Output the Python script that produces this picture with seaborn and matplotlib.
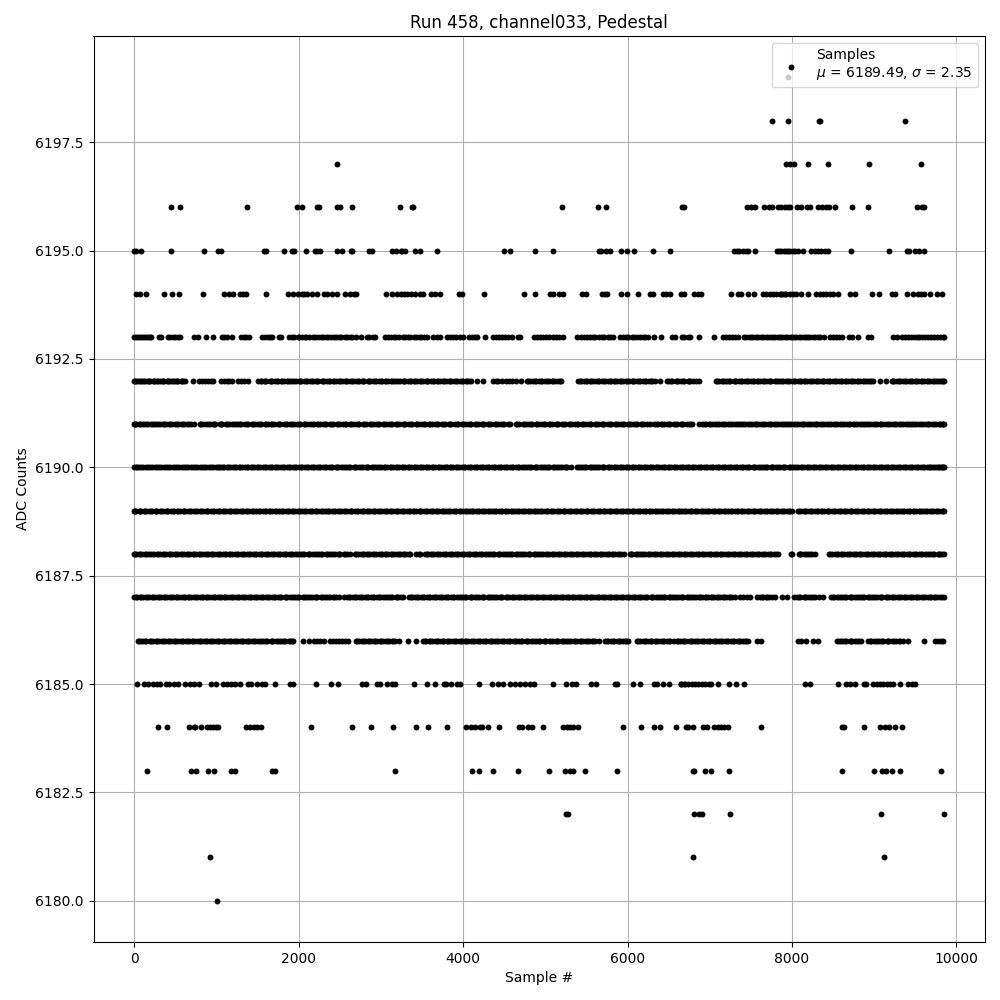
import seaborn as sns
import matplotlib.pyplot as plt
import pandas as pd

# sample numbers, one list per ADC level
s6199 = [7951]
s6198 = [7756, 7951, 8325, 8335, 9380]
s6197 = [2462, 7927, 7980, 8028, 8195, 8440, 8940, 9563]
s6196 = [448, 558, 1376, 1986, 2047, 2222, 2255, 2462, 2499, 2645, 3232, 3374, 3398, 5207, 5646, 5744, 6661, 6685,
         7451, 7503, 7552, 7654, 7719, 7752, 7829, 7870, 7910, 7951, 7980, 8061, 8114, 8183, 8224, 8317, 8370, 8411,
         8452, 8525, 8733, 8928, 9514, 9579, 9608]
s6195 = [0, 24, 85, 448, 851, 1018, 1062, 1579, 1600, 1827, 1917, 1941, 2096, 2202, 2230, 2263, 2462, 2527, 2637,
         2650, 2853, 2894, 3134, 3183, 3240, 3260, 3289, 3411, 3480, 3683, 4500, 4577, 4878, 5098, 5658, 5683, 5744,
         5793, 5915, 5992, 6085, 6305, 6512, 7300, 7328, 7361, 7402, 7442, 7471, 7548, 7817, 7841, 7870, 7898, 7923,
         7951, 7980, 8012, 8041, 8073, 8134, 8236, 8277, 8317, 8358, 8399, 8440, 8720, 9184, 9396, 9424, 9498, 9539,
         9600]
s6194 = [24, 77, 147, 362, 460, 545, 838, 1095, 1152, 1205, 1294, 1319, 1363, 1604, 1876, 1933, 1998, 2039, 2072,
         2100, 2161, 2230, 2304, 2344, 2405, 2466, 2568, 2629, 2670, 2703, 3069, 3138, 3199, 3240, 3280, 3321, 3370,
         3411, 3472, 3512, 3606, 3659, 3720, 3951, 3992, 4256, 4744, 4878, 5057, 5098, 5171, 5220, 5443, 5492, 5687,
         5728, 5756, 5923, 5996, 6122, 6268, 6309, 6427, 6468, 6521, 6651, 6691, 6812, 6853, 6894, 7259, 7341, 7381,
         7463, 7544, 7646, 7687, 7727, 7768, 7809, 7849, 7870, 7890, 7910, 7931, 7972, 8012, 8053, 8114, 8195, 8297,
         8338, 8379, 8419, 8460, 8501, 8562, 8704, 8765, 8969, 9062, 9213, 9254, 9396, 9477, 9526, 9567, 9608, 9673,
         9762, 9823]
s6193 = [0, 20, 45, 70, 95, 118, 140, 165, 190, 211, 305, 325, 415, 440, 470, 500, 530, 557, 732, 772, 874, 959,
         1069, 1095, 1130, 1195, 1305, 1335, 1365, 1398, 1557, 1590, 1625, 1650, 1683, 1760, 1789, 1890, 1925, 1950,
         1990, 2010, 2040, 2075, 2095, 2130, 2175, 2205, 2235, 2270, 2300, 2330, 2355, 2395, 2430, 2460, 2490, 2520,
         2560, 2590, 2620, 2655, 2699, 2756, 2829, 2860, 2900, 2935, 3049, 3085, 3120, 3160, 3190, 3225, 3268, 3295,
         3330, 3360, 3400, 3425, 3460, 3490, 3530, 3565, 3638, 3680, 3720, 3805, 3840, 3880, 3915, 3960, 4004, 4073,
         4105, 4140, 4175, 4272, 4366, 4400, 4440, 4470, 4510, 4550, 4590, 4663, 4695, 4866, 4900, 4940, 4975, 5010,
         5050, 5090, 5130, 5170, 5215, 5390, 5430, 5470, 5505, 5540, 5575, 5610, 5650, 5685, 5720, 5760, 5790, 5820,
         5906, 5945, 5980, 6010, 6050, 6085, 6110, 6150, 6185, 6210, 6248, 6321, 6411, 6540, 6581, 6659, 6690, 6730,
         6764, 6866, 7049, 7159, 7195, 7230, 7270, 7310, 7341, 7415, 7440, 7475, 7500, 7530, 7565, 7590, 7625, 7650,
         7680, 7710, 7740, 7770, 7795, 7825, 7855, 7880, 7915, 7940, 7970, 8000, 8025, 8050, 8085, 8110, 8140, 8170,
         8200, 8225, 8255, 8285, 8315, 8345, 8390, 8459, 8500, 8540, 8575, 8614, 8699, 8735, 8797, 8927, 8960, 9232,
         9272, 9341, 9375, 9410, 9445, 9480, 9515, 9550, 9585, 9620, 9655, 9690, 9725, 9760, 9795, 9833, 9854]
s6192 = [0, 25, 50, 85, 110, 140, 165, 195, 225, 255, 280, 310, 340, 370, 395, 425, 455, 480, 510, 540, 570, 595, 617,
         715, 793, 825, 860, 900, 930, 959, 1057, 1090, 1125, 1160, 1195, 1268, 1300, 1340, 1390, 1512, 1545, 1580,
         1610, 1650, 1680, 1720, 1750, 1790, 1820, 1860, 1895, 1925, 1965, 2000, 2030, 2070, 2100, 2140, 2175, 2210,
         2240, 2280, 2310, 2350, 2385, 2420, 2450, 2490, 2525, 2560, 2590, 2630, 2660, 2700, 2735, 2770, 2800, 2840,
         2875, 2910, 2945, 2980, 3015, 3050, 3085, 3120, 3155, 3190, 3230, 3268, 3300, 3335, 3370, 3405, 3440, 3475,
         3510, 3545, 3580, 3615, 3650, 3685, 3720, 3755, 3790, 3825, 3860, 3895, 3930, 3965, 4000, 4035, 4070, 4100,
         4175, 4248, 4366, 4400, 4430, 4480, 4520, 4560, 4600, 4650, 4703, 4780, 4815, 4850, 4890, 4930, 4965, 5000,
         5040, 5080, 5120, 5160, 5197, 5402, 5440, 5470, 5510, 5545, 5580, 5620, 5655, 5690, 5730, 5765, 5800, 5835,
         5870, 5905, 5940, 5980, 6015, 6050, 6085, 6120, 6155, 6190, 6225, 6265, 6300, 6335, 6390, 6476, 6510, 6545,
         6585, 6620, 6650, 6690, 6730, 6765, 6800, 6830, 6866, 7073, 7110, 7145, 7180, 7215, 7250, 7290, 7325, 7360,
         7395, 7430, 7465, 7500, 7540, 7575, 7610, 7645, 7680, 7715, 7750, 7790, 7825, 7860, 7895, 7930, 7965, 8000,
         8040, 8075, 8110, 8145, 8180, 8215, 8250, 8290, 8325, 8360, 8395, 8430, 8465, 8500, 8540, 8575, 8610, 8645,
         8680, 8715, 8750, 8790, 8825, 8860, 8895, 8930, 8965, 8980, 9069, 9138, 9211, 9245, 9280, 9315, 9350, 9390,
         9425, 9460, 9495, 9530, 9565, 9600, 9640, 9675, 9710, 9745, 9780, 9820, 9854,
         12, 70, 125, 182, 240, 297, 355, 412, 468, 525, 583, 1540, 1598, 1665, 1735, 1805, 1878, 1945, 2015, 2085,
         2158, 2225, 2295, 2365, 2435, 2508, 2575, 2645, 2718, 2785, 2858, 2928, 2998, 3068, 3138, 3208, 3283, 3352,
         3422, 3492, 3562, 3632, 3702, 3772, 3842, 3912, 3982, 4052, 4795, 4870, 4945, 5020, 5100, 5178, 5420, 5490,
         5562, 5638, 5710, 5782, 5852, 5922, 5998, 6068, 6138, 6208, 6282, 6528, 6602, 6672, 6748, 7092, 7162, 7232,
         7308, 7378, 7448, 7520, 7592, 7662, 7732, 7808, 7878, 7948, 8020, 8092, 8162, 8232, 8308, 8378, 8448, 8520,
         8592, 8662, 8732, 8808, 8878, 8948, 9228, 9298, 9370, 9442, 9512, 9582, 9658, 9728, 9798, 9838]
s6191 = [0, 30, 55, 95, 125, 170, 205, 240, 270, 315, 350, 385, 425, 460, 500, 535, 570, 610, 645, 690, 725, 800, 835,
         880, 920, 955, 990, 1040, 1075, 1115, 1150, 1190, 1235, 1270, 1305, 1350, 1385, 1430, 1465, 1510, 1545, 1590,
         1625, 1665, 1700, 1745, 1780, 1825, 1860, 1900, 1945, 1980, 2020, 2065, 2100, 2140, 2185, 2220, 2265, 2300,
         2340, 2385, 2420, 2465, 2500, 2545, 2580, 2625, 2660, 2705, 2740, 2785, 2820, 2865, 2900, 2945, 2980, 3025,
         3060, 3105, 3140, 3185, 3220, 3265, 3300, 3345, 3380, 3425, 3460, 3505, 3540, 3585, 3620, 3665, 3700, 3745,
         3780, 3825, 3860, 3905, 3940, 3985, 4020, 4065, 4100, 4145, 4180, 4225, 4260, 4305, 4340, 4385, 4420, 4465,
         4500, 4545, 4570, 4640, 4680, 4725, 4760, 4805, 4840, 4885, 4920, 4965, 5000, 5045, 5080, 5125, 5160, 5205,
         5240, 5285, 5320, 5365, 5400, 5445, 5480, 5525, 5560, 5605, 5640, 5685, 5720, 5765, 5800, 5845, 5880, 5925,
         5960, 6005, 6040, 6085, 6120, 6165, 6200, 6240, 6270, 6325, 6365, 6405, 6440, 6485, 6520, 6565, 6600, 6645,
         6680, 6725, 6760, 6790, 6866, 6900, 6950, 6985, 7030, 7065, 7110, 7145, 7190, 7225, 7270, 7305, 7350, 7385,
         7430, 7465, 7510, 7545, 7590, 7625, 7670, 7705, 7750, 7785, 7830, 7865, 7910, 7945, 7990, 8025, 8070, 8105,
         8150, 8185, 8230, 8265, 8310, 8345, 8390, 8425, 8470, 8505, 8550, 8585, 8630, 8665, 8710, 8745, 8790, 8825,
         8870, 8905, 8950, 8985, 9030, 9065, 9110, 9145, 9190, 9225, 9270, 9305, 9350, 9385, 9430, 9465, 9510, 9545,
         9590, 9625, 9670, 9705, 9750, 9785, 9820, 9840, 9854,
         15, 75, 148, 222, 292, 368, 442, 518, 590, 668, 818, 900, 972, 1058, 1132, 1212, 1288, 1368, 1448, 1528, 1608,
         1682, 1762, 1842, 1922, 2002, 2082, 2162, 2242, 2322, 2402, 2482, 2562, 2642, 2722, 2802, 2882, 2962, 3042,
         3122, 3202, 3282, 3362, 3442, 3522, 3602, 3682, 3762, 3842, 3922, 4002, 4082, 4162, 4242, 4322, 4402, 4482,
         4660, 4742, 4822, 4902, 4982, 5062, 5142, 5222, 5302, 5382, 5462, 5542, 5622, 5702, 5782, 5862, 5942, 6022,
         6102, 6182, 6345, 6422, 6502, 6582, 6662, 6742, 6925, 7008, 7088, 7168, 7248, 7328, 7408, 7488, 7568, 7648,
         7728, 7808, 7888, 7968, 8048, 8128, 8208, 8288, 8368, 8448, 8528, 8608, 8688, 8768, 8848, 8928, 9008, 9088,
         9168, 9248, 9328, 9408, 9488, 9568, 9648, 9728, 9802]
s6190 = [0, 20, 40, 65, 90, 115, 145, 170, 195, 220, 250, 275, 305, 330, 360, 385, 415, 440, 470, 495, 525, 550, 580,
         605, 635, 660, 690, 715, 745, 770, 800, 825, 855, 880, 910, 935, 965, 1000, 1030, 1060, 1095, 1130, 1165,
         1200, 1240, 1275, 1310, 1350, 1385, 1420, 1460, 1495, 1530, 1570, 1605, 1640, 1680, 1715, 1750, 1790, 1825,
         1860, 1900, 1935, 1970, 2010, 2045, 2080, 2120, 2155, 2190, 2230, 2265, 2300, 2340, 2375, 2410, 2450, 2485,
         2520, 2560, 2595, 2630, 2670, 2705, 2740, 2780, 2815, 2850, 2890, 2925, 2960, 3000, 3035, 3070, 3110, 3145,
         3180, 3220, 3255, 3290, 3330, 3365, 3400, 3440, 3475, 3510, 3550, 3585, 3620, 3660, 3695, 3730, 3770, 3805,
         3840, 3880, 3915, 3950, 3990, 4025, 4060, 4100, 4135, 4170, 4210, 4245, 4280, 4320, 4355, 4390, 4430, 4465,
         4500, 4540, 4575, 4610, 4650, 4685, 4720, 4760, 4795, 4830, 4870, 4905, 4940, 4980, 5015, 5050, 5090, 5125,
         5160, 5200, 5235, 5270, 5310, 5390, 5430, 5465, 5500, 5540, 5575, 5610, 5650, 5685, 5720, 5760, 5795, 5830,
         5870, 5905, 5940, 5980, 6015, 6050, 6090, 6125, 6160, 6200, 6235, 6270, 6310, 6345, 6380, 6420, 6455, 6490,
         6530, 6565, 6600, 6640, 6675, 6710, 6750, 6785, 6820, 6860, 6895, 6930, 6970, 7005, 7040, 7080, 7115, 7150,
         7190, 7225, 7260, 7300, 7335, 7370, 7410, 7445, 7480, 7520, 7555, 7590, 7630, 7665, 7700, 7740, 7775, 7810,
         7850, 7885, 7920, 7960, 7995, 8030, 8070, 8105, 8140, 8180, 8215, 8250, 8290, 8325, 8360, 8400, 8435, 8470,
         8510, 8545, 8580, 8620, 8655, 8690, 8730, 8765, 8800, 8840, 8875, 8910, 8950, 8985, 9020, 9060, 9095, 9130,
         9170, 9205, 9240, 9280, 9315, 9350, 9390, 9425, 9460, 9500, 9535, 9570, 9610, 9645, 9680, 9700, 9725, 9750,
         9770, 9790, 9810, 9825, 9840, 9854,
         1015, 1082, 1148, 1222, 1292, 1368, 1440, 1512, 1588, 1660, 1732, 1808, 1880, 1952, 2028, 2100, 2172, 2248,
         2320, 2392, 2468, 2540, 2612, 2688, 2760, 2832, 2908, 2980, 3052, 3128, 3200, 3272, 3348, 3420, 3492, 3568,
         3640, 3712, 3788, 3860, 3932, 4008, 4080, 4152, 4228, 4300, 4372, 4448, 4520, 4592, 4668, 4740, 4812, 4888,
         4960, 5032, 5108, 5180, 5252, 5412, 5482, 5558, 5630, 5702, 5778, 5850, 5922, 5998, 6070, 6142, 6218, 6290,
         6362, 6438, 6510, 6582, 6658, 6730, 6802, 6878, 6950, 7022, 7098, 7170, 7242, 7318, 7390, 7462, 7538, 7610,
         7682, 7758, 7830, 7902, 7978, 8050, 8122, 8198, 8270, 8342, 8418, 8490, 8562, 8638, 8710, 8782, 8858, 8930,
         9002, 9078, 9150, 9222, 9298, 9370, 9442, 9518, 9590, 9662]
s6189 = [0, 25, 55, 85, 120, 150, 185, 215, 250, 280, 315, 350, 385, 415, 450, 485, 520, 555, 590, 625, 660, 695, 730,
         765, 800, 835, 870, 905, 940, 975, 1010, 1045, 1080, 1115, 1150, 1185, 1220, 1255, 1290, 1325, 1360, 1395,
         1430, 1465, 1500, 1535, 1570, 1605, 1640, 1675, 1710, 1745, 1780, 1815, 1850, 1885, 1920, 1955, 1990, 2025,
         2060, 2095, 2130, 2165, 2200, 2235, 2270, 2305, 2340, 2375, 2410, 2445, 2480, 2515, 2550, 2585, 2620, 2655,
         2690, 2725, 2760, 2795, 2830, 2865, 2900, 2935, 2970, 3005, 3040, 3075, 3110, 3145, 3180, 3215, 3250, 3285,
         3320, 3355, 3390, 3425, 3460, 3495, 3530, 3565, 3600, 3635, 3670, 3705, 3740, 3775, 3810, 3845, 3880, 3915,
         3950, 3985, 4020, 4055, 4090, 4125, 4160, 4195, 4230, 4265, 4300, 4335, 4370, 4405, 4440, 4475, 4510, 4545,
         4580, 4615, 4650, 4685, 4720, 4755, 4790, 4825, 4860, 4895, 4930, 4965, 5000, 5035, 5070, 5105, 5140, 5175,
         5210, 5245, 5280, 5315, 5350, 5385, 5420, 5455, 5490, 5525, 5560, 5595, 5630, 5665, 5700, 5735, 5770, 5805,
         5840, 5875, 5910, 5945, 5980, 6015, 6050, 6085, 6120, 6155, 6190, 6225, 6260, 6295, 6330, 6365, 6400, 6435,
         6470, 6505, 6540, 6575, 6610, 6645, 6680, 6715, 6750, 6785, 6820, 6855, 6890, 6925, 6960, 6995, 7030, 7065,
         7100, 7135, 7170, 7205, 7240, 7275, 7310, 7345, 7380, 7415, 7450, 7485, 7520, 7555, 7590, 7625, 7660, 7695,
         7730, 7765, 7800, 7835, 7870, 7905, 7940, 7975, 8000, 8075, 8105, 8140, 8175, 8210, 8245, 8280, 8315, 8350,
         8385, 8420, 8455, 8490, 8525, 8560, 8595, 8630, 8665, 8700, 8735, 8770, 8805, 8840, 8875, 8910, 8945, 8980,
         9015, 9050, 9085, 9120, 9155, 9190, 9225, 9260, 9295, 9330, 9365, 9400, 9435, 9470, 9505, 9540, 9575, 9610,
         9645, 9680, 9715, 9750, 9785, 9820, 9854,
         12, 68, 138, 202, 268, 332, 402, 468, 538, 608, 678, 748, 818, 888, 958, 1028, 1098, 1168, 1238, 1308, 1378,
         1448, 1518, 1588, 1658, 1728, 1798, 1868, 1938, 2008, 2078, 2148, 2218, 2288, 2358, 2428, 2498, 2568, 2638,
         2708, 2778, 2848, 2918, 2988, 3058, 3128, 3198, 3268, 3338, 3408, 3478, 3548, 3618, 3688, 3758, 3828, 3898,
         3968, 4038, 4108, 4178, 4248, 4318, 4388, 4458, 4528, 4598, 4668, 4738, 4808, 4878, 4948, 5018, 5088, 5158,
         5228, 5298, 5368, 5438, 5508, 5578, 5648, 5718, 5788, 5858, 5928, 5998, 6068, 6138, 6208, 6278, 6348, 6418,
         6488, 6558, 6628, 6698, 6768, 6838, 6908, 6978, 7048, 7118, 7188, 7258, 7328, 7398, 7468, 7538, 7608, 7678,
         7748, 7818, 7888, 7958, 8090, 8158, 8228, 8298, 8368, 8438, 8508, 8578, 8648, 8718, 8788, 8858, 8928, 8998,
         9068, 9138, 9208, 9278, 9348, 9418, 9488, 9558, 9628, 9698, 9768, 9838]
s6188 = [0, 30, 60, 95, 130, 165, 200, 240, 275, 310, 350, 385, 420, 460, 495, 530, 570, 605, 640, 680, 715, 750, 790,
         825, 860, 900, 935, 970, 1010, 1045, 1080, 1120, 1155, 1190, 1230, 1265, 1300, 1340, 1375, 1410, 1450, 1485,
         1520, 1560, 1595, 1630, 1670, 1705, 1740, 1780, 1815, 1850, 1890, 1925, 1960, 2000, 2035, 2070, 2110, 2145,
         2180, 2220, 2255, 2290, 2330, 2365, 2400, 2440, 2475, 2510, 2550, 2585, 2625, 2685, 2720, 2760, 2795, 2830,
         2870, 2905, 2940, 2980, 3015, 3050, 3090, 3125, 3160, 3200, 3235, 3270, 3310, 3345, 3360, 3425, 3460, 3475,
         3540, 3575, 3610, 3650, 3685, 3720, 3760, 3795, 3830, 3870, 3905, 3940, 3980, 4015, 4050, 4090, 4125, 4160,
         4200, 4235, 4270, 4310, 4345, 4380, 4420, 4455, 4490, 4530, 4565, 4600, 4640, 4675, 4710, 4750, 4785, 4820,
         4860, 4895, 4930, 4970, 5005, 5040, 5080, 5115, 5150, 5190, 5225, 5260, 5300, 5335, 5370, 5410, 5445, 5480,
         5520, 5555, 5590, 5630, 5665, 5700, 5740, 5775, 5810, 5850, 5885, 5920, 5960, 6025, 6060, 6100, 6135, 6170,
         6210, 6245, 6280, 6320, 6355, 6390, 6430, 6465, 6500, 6540, 6575, 6610, 6650, 6685, 6720, 6760, 6795, 6830,
         6870, 6905, 6940, 6980, 7015, 7050, 7090, 7125, 7160, 7200, 7235, 7270, 7310, 7345, 7380, 7420, 7455, 7490,
         7530, 7565, 7600, 7640, 7675, 7710, 7750, 7785, 7833, 7985, 7999, 8081, 8115, 8150, 8190, 8225, 8280, 8451,
         8485, 8520, 8560, 8595, 8630, 8670, 8705, 8740, 8780, 8815, 8850, 8890, 8925, 8960, 9000, 9035, 9070, 9110,
         9145, 9180, 9220, 9255, 9290, 9330, 9365, 9400, 9440, 9475, 9510, 9550, 9585, 9620, 9660, 9695, 9730, 9770,
         9805, 9854,
         15, 78, 148, 218, 292, 368, 442, 512, 588, 662, 732, 808, 882, 952, 1028, 1102, 1172, 1248, 1322, 1392, 1468,
         1542, 1612, 1688, 1762, 1832, 1908, 1982, 2052, 2128, 2202, 2272, 2348, 2422, 2492, 2568, 2702, 2778, 2848,
         2922, 2998, 3068, 3142, 3218, 3288, 3558, 3628, 3702, 3778, 3848, 3922, 3998, 4068, 4142, 4218, 4288, 4362,
         4438, 4508, 4582, 4658, 4728, 4802, 4878, 4948, 5022, 5098, 5168, 5242, 5318, 5388, 5462, 5538, 5608, 5682,
         5758, 5828, 5902, 6042, 6118, 6192, 6262, 6338, 6412, 6482, 6558, 6632, 6702, 6778, 6852, 6922, 6998, 7072,
         7142, 7218, 7292, 7362, 7438, 7512, 7582, 7658, 7732, 7808, 8098, 8168, 8242, 8468, 8542, 8612, 8688, 8762,
         8832, 8908, 8982, 9052, 9128, 9202, 9272, 9348, 9422, 9492, 9568, 9642, 9712, 9788, 9828]
s6187 = [0, 35, 70, 105, 140, 180, 215, 250, 290, 325, 360, 400, 435, 470, 510, 545, 580, 620, 655, 690, 730, 765, 800,
         840, 875, 910, 950, 985, 1020, 1060, 1095, 1130, 1170, 1205, 1240, 1280, 1315, 1350, 1390, 1425, 1460, 1500,
         1535, 1570, 1610, 1645, 1680, 1720, 1755, 1790, 1830, 1865, 1900, 1940, 1975, 2010, 2050, 2085, 2120, 2160,
         2195, 2230, 2270, 2305, 2340, 2380, 2415, 2450, 2490, 2555, 2590, 2630, 2665, 2700, 2740, 2775, 2810, 2850,
         2885, 2920, 2960, 2995, 3030, 3070, 3105, 3140, 3180, 3215, 3250, 3268, 3345, 3380, 3420, 3455, 3490, 3530,
         3565, 3600, 3640, 3675, 3710, 3750, 3785, 3820, 3860, 3895, 3930, 3970, 4005, 4040, 4080, 4115, 4150, 4190,
         4225, 4260, 4300, 4335, 4370, 4410, 4445, 4480, 4520, 4555, 4590, 4630, 4665, 4700, 4740, 4775, 4810, 4850,
         4885, 4920, 4960, 4995, 5030, 5070, 5105, 5140, 5180, 5215, 5250, 5290, 5325, 5360, 5400, 5435, 5470, 5510,
         5545, 5580, 5620, 5655, 5690, 5730, 5765, 5800, 5840, 5875, 5910, 5950, 5985, 6020, 6060, 6095, 6130, 6170,
         6205, 6240, 6280, 6315, 6350, 6390, 6425, 6460, 6500, 6535, 6570, 6610, 6645, 6680, 6720, 6755, 6790, 6830,
         6865, 6900, 6940, 6975, 7010, 7050, 7085, 7120, 7160, 7195, 7230, 7265, 7301, 7370, 7410, 7450, 7488, 7573,
         7610, 7650, 7685, 7720, 7760, 7793, 7878, 7943, 8028, 8065, 8100, 8140, 8175, 8210, 8250, 8285, 8329, 8378,
         8480, 8515, 8550, 8590, 8625, 8660, 8700, 8735, 8770, 8810, 8845, 8880, 8920, 8955, 8990, 9030, 9065, 9100,
         9140, 9175, 9210, 9250, 9285, 9320, 9360, 9395, 9430, 9470, 9505, 9540, 9580, 9615, 9650, 9690, 9725, 9760,
         9800, 9854,
         18, 88, 160, 232, 308, 382, 452, 528, 602, 672, 748, 822, 892, 968, 1042, 1112, 1188, 1262, 1332, 1408, 1482,
         1552, 1628, 1702, 1772, 1848, 1922, 1992, 2068, 2142, 2212, 2288, 2362, 2432, 2610, 2682, 2758, 2832, 2902,
         2978, 3052, 3122, 3198, 3362, 3438, 3512, 3582, 3658, 3732, 3802, 3878, 3952, 4022, 4098, 4172, 4242, 4318,
         4392, 4462, 4538, 4612, 4682, 4758, 4832, 4902, 4978, 5052, 5122, 5198, 5272, 5342, 5418, 5492, 5562, 5638,
         5712, 5782, 5858, 5932, 6002, 6078, 6152, 6222, 6298, 6372, 6442, 6518, 6592, 6662, 6738, 6812, 6882, 6958,
         7032, 7102, 7178, 7248, 7630, 7702, 8082, 8158, 8232, 8498, 8572, 8642, 8718, 8792, 8862, 8938, 9012, 9082,
         9158, 9232, 9302, 9378, 9452, 9522, 9598, 9672, 9742, 9822]
s6186 = [45, 80, 115, 150, 190, 230, 265, 300, 340, 375, 410, 450, 485, 520, 560, 595, 630, 670, 705, 740, 780, 815,
         850, 890, 925, 960, 1000, 1035, 1070, 1110, 1145, 1180, 1220, 1255, 1290, 1330, 1365, 1400, 1440, 1475, 1510,
         1550, 1585, 1620, 1660, 1695, 1730, 1770, 1805, 1840, 1880, 1915, 1939, 2057, 2130, 2187, 2225, 2265, 2305,
         2382, 2420, 2460, 2495, 2530, 2570, 2598, 2695, 2730, 2770, 2805, 2840, 2880, 2915, 2950, 2990, 3025, 3060,
         3100, 3135, 3170, 3227, 3329, 3431, 3512, 3550, 3585, 3620, 3660, 3695, 3730, 3770, 3805, 3840, 3880, 3915,
         3950, 3990, 4025, 4060, 4100, 4135, 4170, 4210, 4245, 4280, 4320, 4355, 4390, 4430, 4465, 4500, 4540, 4575,
         4610, 4650, 4685, 4720, 4760, 4795, 4830, 4870, 4905, 4940, 4980, 5015, 5050, 5090, 5125, 5160, 5200, 5235,
         5270, 5310, 5345, 5380, 5420, 5455, 5490, 5530, 5565, 5600, 5650, 5728, 5765, 5800, 5840, 5875, 5910, 5950,
         5985, 6012, 6114, 6150, 6190, 6225, 6260, 6300, 6335, 6370, 6410, 6445, 6480, 6520, 6569, 6600, 6640, 6675,
         6710, 6750, 6785, 6820, 6860, 6895, 6930, 6970, 7005, 7040, 7080, 7115, 7150, 7190, 7225, 7260, 7300, 7335,
         7370, 7410, 7445, 7468, 7573, 7618, 8069, 8110, 8175, 8256, 8317, 8549, 8590, 8625, 8660, 8700, 8735, 8770,
         8810, 8845, 8927, 8965, 9000, 9040, 9075, 9110, 9150, 9185, 9220, 9260, 9295, 9346, 9415, 9610, 9740, 9775,
         9810, 9833,
         62, 132, 208, 282, 358, 428, 502, 578, 652, 722, 798, 872, 942, 1018, 1092, 1162, 1238, 1312, 1382, 1458,
         1532, 1602, 1678, 1752, 1822, 1898, 2712, 2788, 2862, 2932, 3008, 3082, 3152, 3532, 3602, 3678, 3752, 3822,
         3898, 3972, 4042, 4118, 4192, 4262, 4338, 4412, 4482, 4558, 4632, 4702, 4778, 4852, 4922, 4998, 5072, 5142,
         5218, 5292, 5362, 5438, 5512, 5582, 5748, 5822, 5892, 5968, 6132, 6208, 6282, 6352, 6428, 6502, 6618, 6692,
         6768, 6842, 6912, 6988, 7062, 7132, 7208, 7282, 7352, 7428, 8572, 8642, 8718, 8792, 8948, 9022, 9092, 9168,
         9242, 9312]
s6185 = [37, 126, 167, 228, 277, 317, 391, 431, 480, 533, 623, 675, 724, 785, 940, 1001, 1083, 1131, 1184, 1225, 1294,
         1388, 1428, 1498, 1550, 1591, 1718, 1897, 1937, 2218, 2401, 2475, 2772, 2825, 2955, 2996, 3073, 3138, 3179,
         3402, 3557, 3663, 3764, 3797, 3854, 3927, 3967, 4195, 4358, 4427, 4488, 4577, 4630, 4691, 4752, 4813, 4862,
         5098, 5248, 5321, 5370, 5561, 5622, 5850, 5878, 6061, 6146, 6317, 6358, 6427, 6500, 6654, 6703, 6649, 6690,
         6730, 6780, 6820, 6860, 6900, 6940, 6985, 7015, 7096, 7239, 7320, 7414, 8163, 8216, 8562, 8651, 8704, 8765,
         8875, 8895, 8989, 9030, 9070, 9111, 9152, 9193, 9233, 9319, 9416, 9457, 9490]
s6184 = [289, 399, 663, 724, 745, 814, 887, 928, 961, 993, 1026, 1359, 1416, 1461, 1498, 1538, 2157, 2646, 2877, 3146,
         3427, 3573, 3805, 4033, 4098, 4150, 4203, 4228, 4305, 4435, 4679, 4720, 4793, 4833, 4976, 5220, 5260, 5301,
         5341, 5402, 5951, 6163, 6317, 6390, 6585, 6732, 6716, 6791, 6921, 6962, 7048, 7096, 7137, 7178, 7219, 7621,
         8602, 8635, 8879, 9070, 9131, 9184, 9254, 9335]
s6183 = [155, 688, 757, 899, 973, 1184, 1225, 1681, 1714, 3171, 4110, 4191, 4366, 4671, 5049, 5240, 5301, 5333, 5488,
         5878, 6791, 6810, 6946, 7015, 7231, 8610, 9001, 9091, 9143, 9213, 9315, 9807]
s6182 = [5248, 5280, 6812, 6873, 6901, 7243, 9087, 9844]
s6181 = [924, 6791, 9123]
s6180 = [1009]

levels = [6199, 6198, 6197, 6196, 6195, 6194, 6193, 6192, 6191, 6190, 6189, 6188, 6187, 6186, 6185, 6184, 6183, 6182,
          6181, 6180]
rows = [s6199, s6198, s6197, s6196, s6195, s6194, s6193, s6192, s6191, s6190, s6189, s6188, s6187, s6186, s6185,
        s6184, s6183, s6182, s6181, s6180]

df = pd.DataFrame({
    "sample": [x for row in rows for x in row],
    "adc": [lvl for lvl, row in zip(levels, rows) for _ in row],
})

f, ax = plt.subplots(figsize=(10, 10))

sns.scatterplot(data=df, x="sample", y="adc", color="black", s=18, linewidth=0, zorder=2, ax=ax,
                label="Samples\n$\\mu$ = 6189.49, $\\sigma$ = 2.35")

ax.grid(True)
ax.legend(loc="upper right")
ax.set(title="Run 458, channel033, Pedestal", xlabel="Sample #", ylabel="ADC Counts")

plt.subplots_adjust(left=0.0935, right=0.985, top=0.964, bottom=0.058)
ax.title.set_position((0.5, 1.0))
plt.savefig("out.png", dpi=100)
